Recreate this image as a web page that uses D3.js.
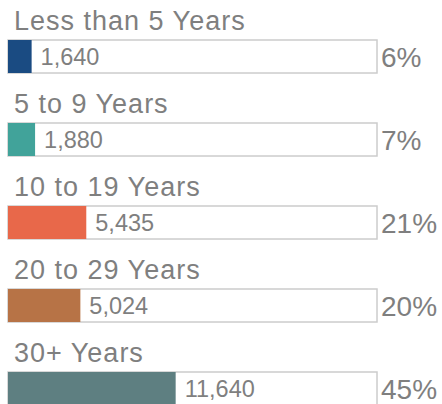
<!DOCTYPE html>
<html>
<head>
<meta charset="utf-8">
<script src="https://cdn.jsdelivr.net/npm/d3@7"></script>
<style>
  html, body { margin: 0; padding: 0; background: #ffffff; }
  svg { display: block; }
</style>
</head>
<body>
<svg id="chart" width="442" height="404"></svg>
<script>
const categories = ["Less than 5 Years", "5 to 9 Years", "10 to 19 Years", "20 to 29 Years", "30+ Years"];
const values = [1640, 1880, 5435, 5024, 11640];
const percents = ["6%", "7%", "21%", "20%", "45%"];
const colors = ["#1a4b82", "#41a39a", "#e8684a", "#b77346", "#5e7f81"];

const FONT = "'Liberation Sans', Arimo, Arial, sans-serif";
const boxLeft = 8, boxRight = 377;
const total = d3.sum(values);

const svg = d3.select("#chart");

const x = d3.scaleLinear().domain([0, total]).range([boxLeft, boxRight]);
const yb = d3.scaleBand().domain(categories).range([40, 40 + 83 * 5 - 50]).paddingInner(50 / 83).paddingOuter(0);

const data = categories.map((c, i) => ({ c, v: values[i], p: percents[i], col: colors[i] }));
const bh = yb.bandwidth();

const g = svg.selectAll("g.row").data(data).enter().append("g").attr("class", "row");

g.append("text")
  .attr("x", 14)
  .attr("y", d => yb(d.c) - 10)
  .attr("font-family", FONT)
  .attr("font-size", 27)
  .attr("letter-spacing", 1)
  .attr("fill", "#7f7f7f")
  .text(d => d.c);

g.append("rect")
  .attr("x", x(0))
  .attr("y", d => yb(d.c))
  .attr("width", x(total) - x(0))
  .attr("height", bh)
  .attr("fill", "#ffffff")
  .attr("stroke", "#cccccc")
  .attr("stroke-width", 1.5);

g.append("rect")
  .attr("x", x(0))
  .attr("y", d => yb(d.c))
  .attr("width", d => x(d.v) - x(0))
  .attr("height", bh)
  .attr("fill", d => d.col);

g.append("text")
  .attr("x", d => x(d.v) + 9)
  .attr("y", d => yb(d.c) + bh / 2 + 8)
  .attr("font-family", FONT)
  .attr("font-size", 23.5)
  .attr("fill", "#7f7f7f")
  .text(d => d3.format(",")(d.v));

g.append("text")
  .attr("x", 381)
  .attr("y", d => yb(d.c) + bh / 2 + 10)
  .attr("font-family", FONT)
  .attr("font-size", 28)
  .attr("fill", "#7f7f7f")
  .text(d => d.p);
</script>
</body>
</html>
